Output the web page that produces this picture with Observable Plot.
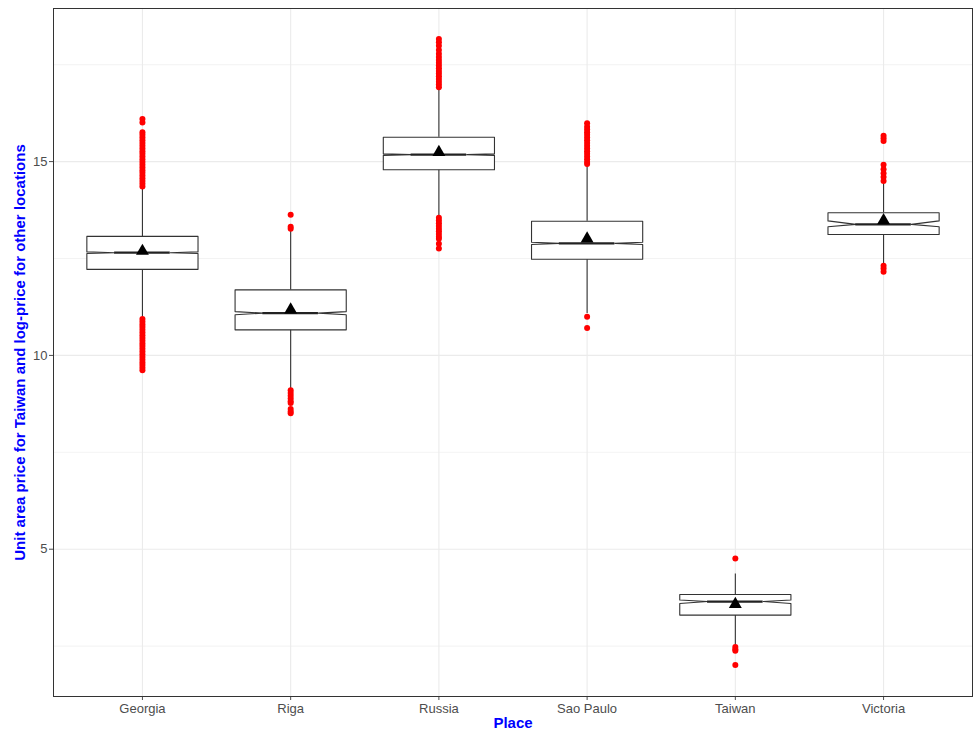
<!DOCTYPE html>
<html>
<head>
<meta charset="utf-8">
<script src="https://cdn.jsdelivr.net/npm/d3@7"></script>
<script src="https://cdn.jsdelivr.net/npm/@observablehq/plot@0.6"></script>
<style>
  html, body { margin: 0; padding: 0; background: #fff; }
  #chart { width: 974px; height: 732px; }
</style>
</head>
<body>
<div id="chart"></div>
<script>
const places = ["Georgia", "Riga", "Russia", "Sao Paulo", "Taiwan", "Victoria"];
const q1 = [12.22, 10.66, 14.79, 12.48, 3.30, 13.12];
const medians = [12.65, 11.09, 15.18, 12.89, 3.65, 13.38];
const q3 = [13.07, 11.69, 15.63, 13.46, 3.83, 13.68];
const notchLo = [12.63, 11.05, 15.16, 12.86, 3.60, 13.32];
const notchHi = [12.67, 11.13, 15.20, 12.92, 3.69, 13.47];
const whiskerLo = [10.99, 9.14, 13.59, 11.08, 2.53, 12.36];
const whiskerHi = [14.30, 13.20, 16.85, 14.90, 4.36, 14.43];
const means = [12.69, 11.18, 15.24, 13.01, 3.58, 13.48];

const georgiaOut = [16.10, 16.01, 15.76, 15.69, 15.62, 15.55, 15.48, 15.41, 15.34, 15.27, 15.20, 15.13, 15.06, 14.99, 14.92, 14.85, 14.78, 14.71, 14.64, 14.57, 14.50, 14.43, 14.36,
  10.94, 10.87, 10.80, 10.73, 10.66, 10.59, 10.52, 10.45, 10.38, 10.31, 10.24, 10.17, 10.10, 10.03, 9.96, 9.89, 9.82, 9.75, 9.68, 9.62];
const rigaOut = [13.63, 13.32, 13.27, 9.10, 9.03, 8.96, 8.89, 8.82, 8.77, 8.62, 8.55, 8.51];
const russiaOut = [18.16, 18.08, 17.99, 17.88, 17.78, 17.70, 17.62, 17.55, 17.48, 17.41, 17.34, 17.27, 17.20, 17.13, 17.06, 16.99, 16.92,
  13.55, 13.48, 13.41, 13.34, 13.27, 13.20, 13.13, 13.06, 13.01, 12.88, 12.76];
const saoPauloOut = [15.99, 15.90, 15.83, 15.76, 15.69, 15.62, 15.55, 15.48, 15.41, 15.34, 15.27, 15.20, 15.13, 15.06, 14.99, 14.94, 11.00, 10.71];
const taiwanOut = [4.76, 2.48, 2.42, 2.38, 2.01];
const victoriaOut = [15.67, 15.60, 15.53, 14.92, 14.80, 14.70, 14.60, 14.50, 12.31, 12.24, 12.16];

const yMajor = [5, 10, 15];
const yMinor = [2.5, 7.5, 12.5, 17.5];
const xLabel = "Place";
const yLabel = "Unit area price for Taiwan and log-price for other locations";

// build tables
const xPos = places.map((p, i) => i + 1);
const stats = places.map((p, i) => ({
  place: p, x: xPos[i], q1: q1[i], median: medians[i], q3: q3[i],
  nlo: notchLo[i], nhi: notchHi[i], wlo: whiskerLo[i], whi: whiskerHi[i], mean: means[i]
}));
const outLists = [georgiaOut, rigaOut, russiaOut, saoPauloOut, taiwanOut, victoriaOut];
const outliers = outLists.flatMap((arr, i) => arr.map(v => ({ place: places[i], x: xPos[i], y: v })));

const w = 0.375; // half box width (ggplot width 0.75)
const boxPts = stats.flatMap(d => {
  const x = d.x;
  return [
    [x - w, d.q3], [x + w, d.q3], [x + w, d.nhi], [x + w / 2, d.median], [x + w, d.nlo],
    [x + w, d.q1], [x - w, d.q1], [x - w, d.nlo], [x - w / 2, d.median], [x - w, d.nhi], [x - w, d.q3]
  ].map(([px, py]) => ({ place: d.place, x: px, y: py }));
});

const chart = Plot.plot({
  width: 974,
  height: 732,
  marginLeft: 53,
  marginRight: 2,
  marginTop: 8,
  marginBottom: 36,
  style: { fontFamily: "'Liberation Sans', Arial, sans-serif", fontSize: "13px", color: "#4d4d4d", background: "#fff" },
  x: { type: "linear", domain: [0.4, 6.6], ticks: xPos, tickFormat: d => places[d - 1], tickSize: 4, tickPadding: 3, label: null },
  y: { domain: [1.2, 18.95], ticks: yMajor, tickSize: 4, tickPadding: 2, label: null },
  marks: [
    Plot.ruleY(yMinor, { stroke: "#ebebeb", strokeWidth: 0.6 }),
    Plot.ruleY(yMajor, { stroke: "#ebebeb", strokeWidth: 1.1 }),
    Plot.ruleX(xPos, { stroke: "#ebebeb", strokeWidth: 1.1 }),
    Plot.ruleX(stats, { x: "x", y1: "q3", y2: "whi", stroke: "#333", strokeWidth: 1.1 }),
    Plot.ruleX(stats, { x: "x", y1: "q1", y2: "wlo", stroke: "#333", strokeWidth: 1.1 }),
    Plot.line(boxPts, { x: "x", y: "y", z: "place", stroke: "#333", strokeWidth: 1.1, fill: "white", curve: "linear" }),
    Plot.ruleY(stats, { y: "median", x1: d => d.x - w / 2, x2: d => d.x + w / 2, stroke: "#222", strokeWidth: 2.2 }),
    Plot.dot(outliers, { x: "x", y: "y", r: 3, fill: "#ff0000", stroke: "none" }),
    Plot.dot(stats, { x: "x", y: "mean", symbol: "triangle", r: 4.8, fill: "black", stroke: "none" }),
    Plot.frame({ stroke: "#333", strokeWidth: 1 }),
    Plot.text([xLabel], { frameAnchor: "bottom", lineAnchor: "middle", textAnchor: "middle", dy: 27, fill: "#0000ff", fontWeight: "bold", fontSize: 15 }),
    Plot.text([yLabel], { frameAnchor: "left", lineAnchor: "middle", textAnchor: "middle", dx: -33, rotate: -90, fill: "#0000ff", fontWeight: "bold", fontSize: 15 })
  ]
});
document.getElementById("chart").appendChild(chart);
</script>
</body>
</html>
